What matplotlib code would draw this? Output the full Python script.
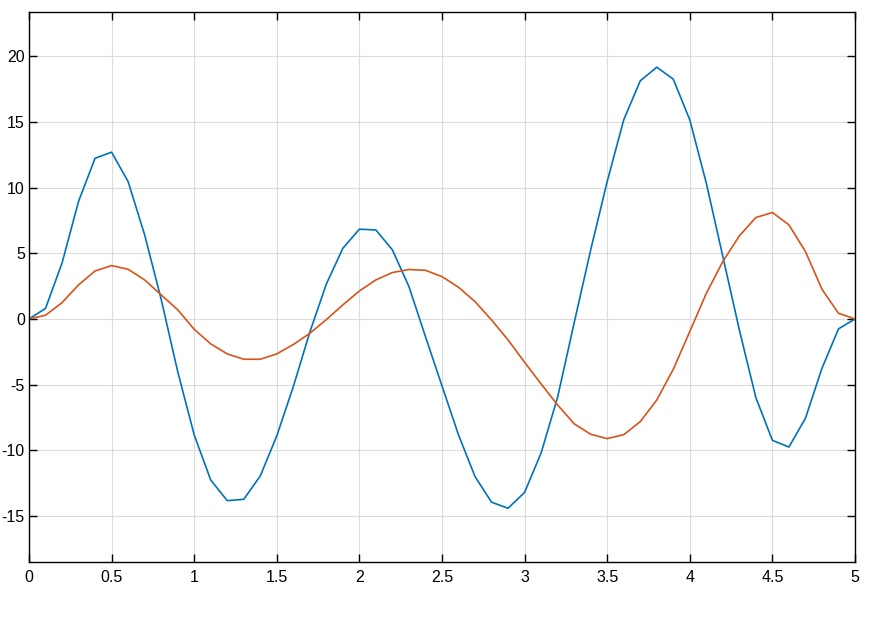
import matplotlib
matplotlib.use("Agg")
import matplotlib.pyplot as plt
import numpy as np

plt.rcParams["font.family"] = ["Liberation Sans", "DejaVu Sans"]
plt.rcParams["axes.unicode_minus"] = False

# sample points, 0 to 5 in steps of 0.1
x = np.round(np.arange(0, 51) * 0.1, 1)

blue = [0.0, 0.8, 4.25, 8.95, 12.23, 12.69, 10.45, 6.4, 1.5, -4.0,
        -8.83, -12.26, -13.83, -13.73, -11.95, -8.9, -5.15, -1.0, 2.66, 5.38,
        6.83, 6.77, 5.25, 2.46, -1.35, -5.1, -8.83, -12.0, -13.95, -14.41,
        -13.2, -10.2, -5.95, -0.3, 5.25, 10.46, 15.15, 18.12, 19.16, 18.25,
        15.15, 10.33, 4.75, -0.84, -5.99, -9.24, -9.75, -7.56, -3.76, -0.76,
        0.0]

orange = [0.0, 0.28, 1.24, 2.59, 3.65, 4.06, 3.78, 2.97, 1.83, 0.7,
          -0.79, -1.9, -2.66, -3.07, -3.07, -2.66, -1.95, -1.09, -0.05, 1.07,
          2.13, 2.97, 3.53, 3.76, 3.7, 3.22, 2.41, 1.32, -0.08, -1.6,
          -3.3, -4.95, -6.55, -7.98, -8.78, -9.11, -8.81, -7.82, -6.17, -3.83,
          -0.96, 1.95, 4.37, 6.32, 7.72, 8.1, 7.16, 5.13, 2.26, 0.43,
          0.0]

xticks = [0, 0.5, 1, 1.5, 2, 2.5, 3, 3.5, 4, 4.5, 5]
yticks = [-15, -10, -5, 0, 5, 10, 15, 20]

fig = plt.figure(figsize=(8.75, 6.19), dpi=100)
ax = fig.add_axes([29 / 875, 1 - 562 / 619, 826 / 875, 550 / 619])

ax.plot(x, blue, color="#0072BD", linewidth=1.2)
ax.plot(x, orange, color="#D95319", linewidth=1.2)

ax.set_xlim(0, 5)
ax.set_ylim(-18.5, 23.36)
ax.set_xticks(xticks)
ax.set_xticklabels(["%g" % t for t in xticks])
ax.set_yticks(yticks)
ax.set_yticklabels(["%g" % t for t in yticks])

ax.grid(True, color="#dcdcdc", linewidth=0.8)
ax.set_axisbelow(True)
for s in ax.spines.values():
    s.set_linewidth(1.0)
    s.set_color("black")

ax.tick_params(direction="in", length=6, width=1.0, top=True, right=True,
               labelsize=11.5, colors="black")
ax.tick_params(axis="x", pad=6)
ax.tick_params(axis="y", pad=3)

fig.savefig("out.png", dpi=100, facecolor="white")
